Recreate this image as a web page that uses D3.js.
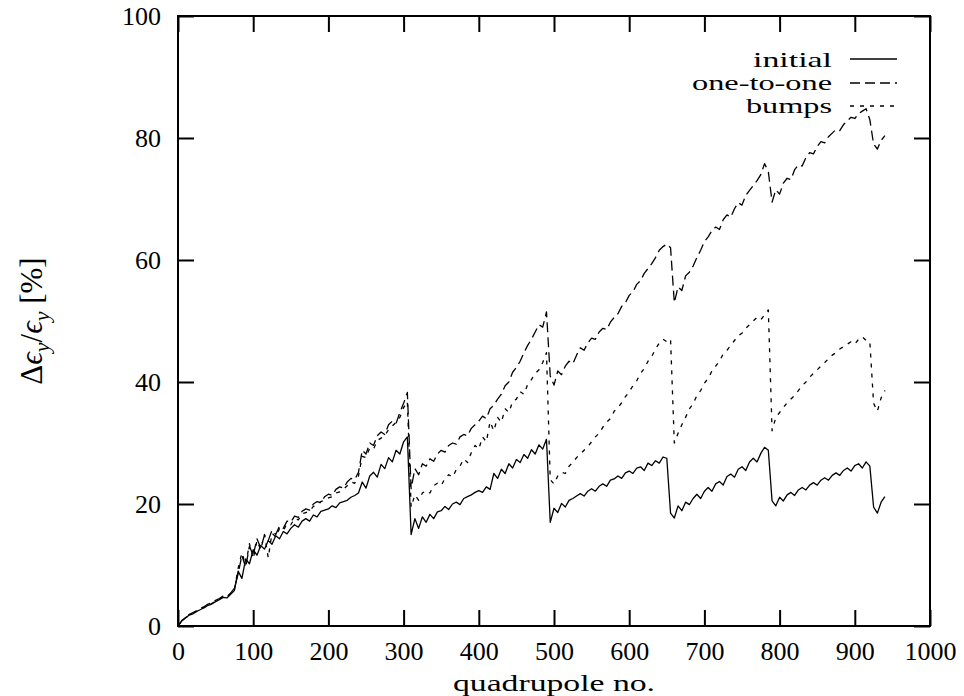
<!DOCTYPE html>
<html>
<head>
<meta charset="utf-8">
<script src="https://cdn.jsdelivr.net/npm/d3@7"></script>
<style>
  body { margin: 0; background: #fff; }
</style>
</head>
<body>
<div id="chart"></div>
<script>
// quadrupole index, every 5th quadrupole
var quadNo = d3.range(0, 945, 5);

var initial = [
  0, 0.8, 1.3, 1.8, 2.0, 2.4, 2.7, 3.0, 3.4, 3.6,
  4.0, 4.3, 4.7, 4.6, 5.2, 5.8, 9.0, 7.8, 11.0, 10.2,
  12.5, 11.6, 13.2, 12.6, 14.0, 13.4, 14.8, 14.3, 15.5, 15.1,
  16.0, 16.6, 16.2, 17.2, 17.6, 17.2, 18.2, 17.9, 18.8, 19.0,
  19.2, 19.7, 19.4, 20.2, 20.4, 20.6, 21.1, 21.4, 21.8, 23.6,
  22.6, 24.6, 25.2, 24.4, 26.5, 25.8, 27.6, 26.9, 28.8, 28.2,
  30.2, 31.0, 15.0, 17.6, 16.0, 17.9, 17.0, 18.3, 17.6, 18.7,
  18.9, 19.6, 19.1, 20.0, 20.3, 19.9, 20.9, 21.2, 21.5, 21.9,
  22.2, 21.9, 22.8, 22.4, 25.0, 24.2, 25.7, 25.0, 26.6, 25.9,
  27.3, 26.8, 28.1, 27.5, 28.9, 28.2, 29.7, 29.0, 30.6, 17.0,
  19.3, 18.6, 20.1, 19.5, 20.6, 20.9, 21.3, 21.7, 21.3, 22.1,
  22.5, 22.1, 22.9, 23.3, 22.9, 23.9, 24.1, 24.6, 24.2, 25.1,
  25.4, 25.0, 25.9, 26.1, 25.5, 26.7, 26.3, 27.1, 26.7, 27.7,
  27.5, 18.5, 17.7, 19.7, 18.9, 20.3, 19.9, 20.9, 21.6, 20.9,
  22.1, 22.7, 22.1, 23.3, 23.7, 23.1, 24.5, 24.9, 24.4, 25.7,
  26.1, 25.5, 26.9, 27.5, 26.9, 28.3, 29.3, 28.8, 20.5, 19.7,
  21.1, 20.5, 21.5, 21.9, 21.4, 22.3, 22.7, 22.3, 23.1, 23.5,
  23.1, 23.9, 24.3, 23.9, 24.7, 25.1, 24.7, 25.5, 25.9, 25.4,
  26.3, 26.6, 25.9, 26.9, 26.2, 19.5, 18.5, 20.3, 21.2
];

var oneToOne = [
  0, 0.9, 1.4, 1.9, 2.2, 2.5, 2.9, 3.2, 3.6, 3.8,
  4.2, 4.5, 4.9, 4.8, 5.4, 6.2, 8.6, 11.6, 9.6, 13.1,
  11.6, 14.3, 12.8, 14.9, 14.0, 15.7, 15.0, 16.4, 16.0, 17.2,
  17.0, 18.0, 17.8, 18.8, 19.2, 19.0, 20.0, 20.4, 20.2, 21.2,
  21.6, 21.4, 22.4, 22.8, 22.6, 23.6, 24.2, 24.0, 25.2, 28.8,
  28.2, 30.0, 29.6, 31.2, 31.8, 31.4, 33.0, 33.6, 33.2, 35.0,
  36.5, 38.3, 22.5, 25.8, 24.8, 26.6, 26.2, 27.4, 27.0, 28.2,
  28.8, 28.5, 29.6, 30.0, 29.8, 31.0, 31.4, 31.2, 32.4, 33.0,
  33.6, 34.4, 34.0, 35.6, 36.2, 37.2, 38.0, 39.4, 40.0, 41.6,
  42.4, 43.4, 44.8, 46.0, 47.0, 48.2, 49.4, 49.0, 51.5, 41.0,
  39.5, 41.8, 41.2, 42.6, 43.4, 43.0, 44.4, 45.6, 45.2, 46.4,
  47.2, 47.0, 48.2, 48.8, 48.6, 49.8, 50.6, 51.2, 52.4, 53.0,
  54.2, 54.8, 56.0, 56.6, 57.8, 58.6, 59.4, 60.4, 61.6, 62.2,
  62.6, 62.0, 53.0, 55.6, 55.0, 57.4, 58.0, 59.0, 60.4, 61.6,
  63.0, 63.8, 64.8, 65.4, 65.0, 66.6, 67.4, 67.0, 68.4, 69.4,
  69.0, 70.6, 71.4, 72.2, 73.0, 74.0, 75.8, 74.5, 69.5, 71.5,
  70.8, 72.6, 73.4, 73.2, 74.8, 75.6, 75.4, 76.8, 77.6, 77.4,
  78.6, 79.4, 79.2, 80.2, 80.8, 81.4, 81.2, 82.2, 82.8, 83.4,
  83.2, 84.0, 84.4, 84.8, 83.0, 79.0, 78.2, 79.6, 80.4
];

var bumps = [
  0, 0.8, 1.4, 1.7, 2.1, 2.5, 2.8, 3.1, 3.5, 3.7,
  4.1, 4.4, 4.8, 4.7, 5.3, 6.0, 9.5, 12.0, 10.0, 13.5,
  11.0, 14.0, 12.5, 15.0, 11.2, 15.2, 14.6, 16.0, 15.6, 16.8,
  16.6, 17.6, 17.4, 18.4, 18.6, 18.8, 19.6, 19.8, 20.4, 20.6,
  21.0, 21.2, 21.8, 22.0, 22.4, 23.0, 23.6, 23.4, 24.6, 27.8,
  27.6, 29.2, 29.0, 30.4, 30.8, 31.2, 32.2, 32.8, 33.4, 34.2,
  35.8, 36.8, 19.5, 21.5, 20.6, 21.8, 22.2, 21.8, 23.0, 23.4,
  23.0, 24.2, 24.8, 24.4, 25.6, 26.2, 27.4, 26.8, 28.4, 29.6,
  29.0, 31.0, 30.2, 33.5, 32.0, 34.2, 33.4, 35.6, 35.0, 36.8,
  37.2, 38.4, 38.0, 39.6, 40.4, 41.4, 42.0, 43.2, 44.8, 24.0,
  23.3, 24.6, 25.2, 25.0, 26.2, 26.8, 27.6, 28.2, 28.8, 29.4,
  30.2, 31.0, 31.6, 32.6, 33.4, 34.0, 35.2, 35.8, 36.6, 37.6,
  38.4, 39.4, 40.2, 41.4, 42.2, 43.4, 44.2, 45.4, 46.4, 47.0,
  46.6, 47.0, 30.0, 31.6, 33.0, 34.2, 35.6, 36.4, 37.8, 38.6,
  39.8, 40.6, 41.8, 42.6, 43.4, 44.6, 45.2, 46.0, 46.8, 47.6,
  48.0, 48.8, 49.4, 50.0, 50.6, 50.2, 51.0, 51.8, 32.0, 34.2,
  35.0, 35.8, 36.6, 37.2, 37.8, 38.6, 39.4, 40.0, 40.8, 41.4,
  42.0, 42.6, 43.2, 43.8, 44.4, 44.8, 45.4, 45.8, 46.2, 46.6,
  46.2, 47.0, 47.4, 46.8, 46.6, 36.5, 35.2, 37.4, 38.6
];

var seriesNames = ["initial", "one-to-one", "bumps"];
var xTicks = [0, 100, 200, 300, 400, 500, 600, 700, 800, 900, 1000];
var yTicks = [0, 20, 40, 60, 80, 100];

var svgWidth = 964;
var svgHeight = 696;
var margin = { top: 16, right: 34, bottom: 70, left: 178 };
var width = svgWidth - margin.left - margin.right;
var height = svgHeight - margin.top - margin.bottom;
var serif = "'Liberation Serif', 'Times New Roman', 'DejaVu Serif', serif";

var svg = d3.select("#chart")
    .append("svg")
    .attr("width", svgWidth)
    .attr("height", svgHeight)
    .attr("font-family", serif);

var chartGroup = svg.append("g")
    .attr("transform", `translate(${margin.left}, ${margin.top})`);

var xScale = d3.scaleLinear().domain([0, 1000]).range([0, width]);
var yScale = d3.scaleLinear().domain([0, 100]).range([height, 0]);

// axes, ticks pointing inward
var bottomAxis = d3.axisBottom(xScale).tickValues(xTicks).tickFormat(d3.format("d")).tickSize(-16).tickPadding(16);
var leftAxis = d3.axisLeft(yScale).tickValues(yTicks).tickFormat(d3.format("d")).tickSize(-16).tickPadding(17);
var topAxis = d3.axisTop(xScale).tickValues(xTicks).tickSize(-16).tickFormat("");
var rightAxis = d3.axisRight(yScale).tickValues(yTicks).tickSize(-16).tickFormat("");

chartGroup.append("g").attr("class", "axis").attr("transform", `translate(0, ${height})`).call(bottomAxis);
chartGroup.append("g").attr("class", "axis").call(leftAxis);
chartGroup.append("g").attr("class", "axis").call(topAxis);
chartGroup.append("g").attr("class", "axis").attr("transform", `translate(${width}, 0)`).call(rightAxis);

chartGroup.selectAll(".axis").attr("font-family", serif);
chartGroup.selectAll(".axis .domain").remove();
chartGroup.selectAll(".axis line").attr("stroke", "#000").attr("stroke-width", 2);
chartGroup.selectAll(".axis text")
    .attr("font-size", 26)
    .attr("fill", "#000");

chartGroup.append("rect")
    .attr("width", width)
    .attr("height", height)
    .attr("fill", "none")
    .attr("stroke", "#000")
    .attr("stroke-width", 2);

// data lines
var dashes = [null, "10,5", "4,6"];
var allSeries = [initial, oneToOne, bumps];

var line = d3.line()
    .x((d, i) => xScale(quadNo[i]))
    .y(d => yScale(d));

allSeries.forEach(function(vals, k) {
    chartGroup.append("path")
        .datum(vals)
        .attr("d", line)
        .attr("fill", "none")
        .attr("stroke", "#000")
        .attr("stroke-width", 1.3)
        .attr("stroke-linejoin", "round")
        .attr("stroke-dasharray", dashes[k]);
});

// legend
var legendY = [59, 83, 106];
var legendBase = [67, 90, 113];
var legendLen = [79, 140, 86];
seriesNames.forEach(function(name, k) {
    svg.append("text")
        .attr("x", 832)
        .attr("y", legendBase[k])
        .attr("text-anchor", "end")
        .attr("font-size", 21)
        .attr("textLength", legendLen[k])
        .attr("lengthAdjust", "spacingAndGlyphs")
        .text(name);
    svg.append("line")
        .attr("x1", 850)
        .attr("x2", 897)
        .attr("y1", legendY[k])
        .attr("y2", legendY[k])
        .attr("stroke", "#000")
        .attr("stroke-width", 1.3)
        .attr("stroke-dasharray", dashes[k]);
});

// axis titles
svg.append("text")
    .attr("x", 554)
    .attr("y", 691)
    .attr("text-anchor", "middle")
    .attr("font-size", 24)
    .attr("textLength", 202)
    .attr("lengthAdjust", "spacingAndGlyphs")
    .text("quadrupole no.");

var yLabel = svg.append("text")
    .attr("transform", "translate(42, 321) rotate(-90)")
    .attr("text-anchor", "middle")
    .attr("font-size", 31);
yLabel.append("tspan").text("Δ");
yLabel.append("tspan").attr("font-style", "italic").text("ϵ");
yLabel.append("tspan").attr("font-style", "italic").attr("font-size", 22).attr("dy", 7).text("y");
yLabel.append("tspan").attr("dy", -7).text("/");
yLabel.append("tspan").attr("font-style", "italic").text("ϵ");
yLabel.append("tspan").attr("font-style", "italic").attr("font-size", 22).attr("dy", 7).text("y");
yLabel.append("tspan").attr("dy", -7).text(" [%]");
</script>
</body>
</html>
